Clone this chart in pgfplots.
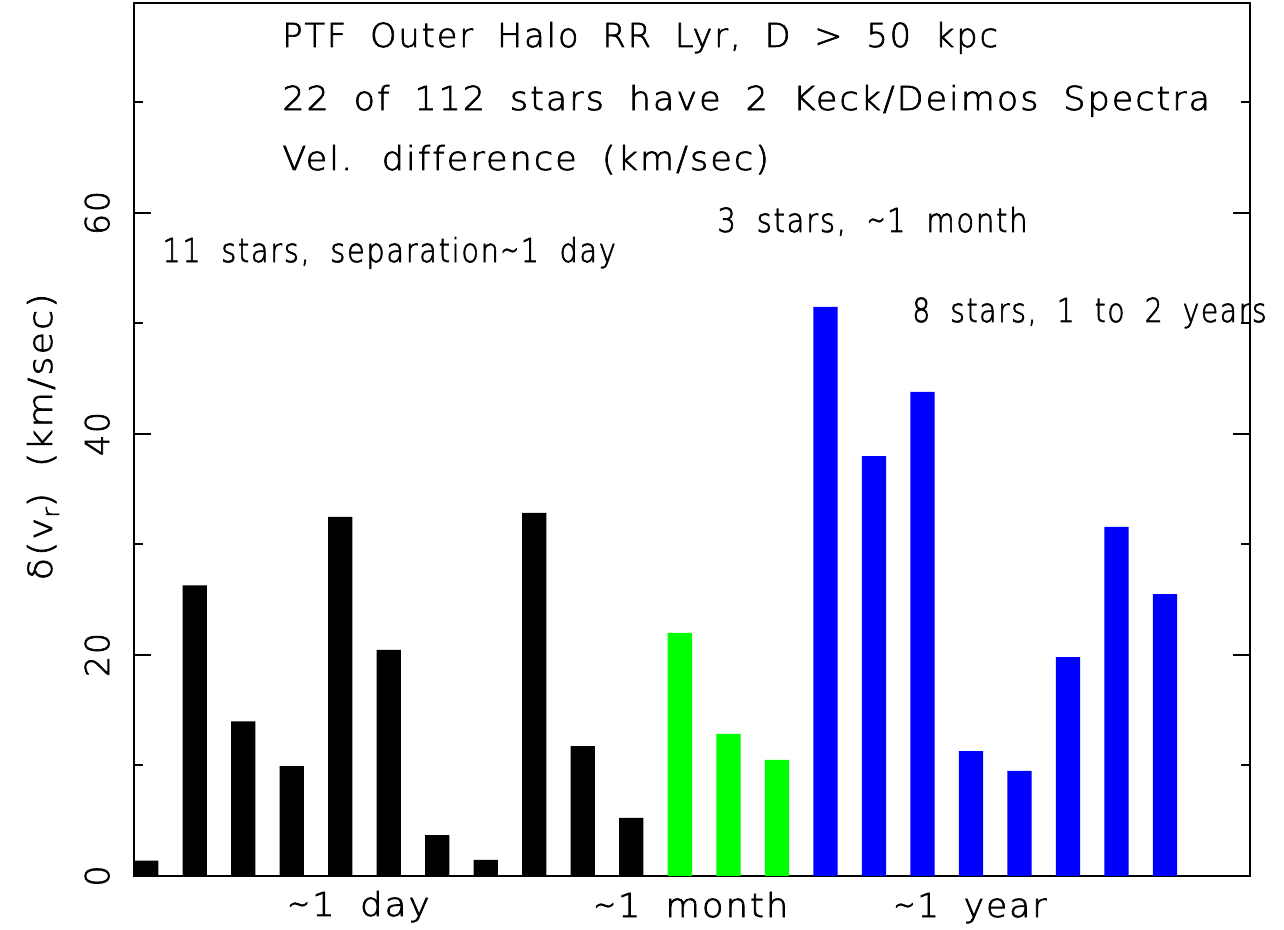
\documentclass[border=0pt]{standalone}
\usepackage{fontspec}
\setmainfont{DejaVu Sans}[UprightFont=* ExtraLight,LetterSpace=6,WordSpace=1.9,Ligatures=CommonOff,FakeBold=2]
\usepackage{pgfplots}
\pgfplotsset{compat=1.18}
\newcommand{\tl}{\char"223C\relax}
\newcommand{\sx}[2]{\scalebox{#1}[1]{#2}}
\begin{document}
\fontsize{16.5}{20}\selectfont
\begin{tikzpicture}
\begin{axis}[
  scale only axis, width=558pt, height=436.5pt,
  xmin=0.75, xmax=23.75, ymin=0, ymax=79,
  xtick=\empty,
  ytick={0,20,40,60}, minor ytick={10,30,50,70},
  tick align=inside,
  major tick length=8.5pt, minor tick length=4.5pt,
  yticklabel style={rotate=90, anchor=south, inner sep=0pt, font=\fontsize{16.5}{20}\selectfont},
  yticklabel shift=12pt,
  /pgf/number format/assume math mode=true,
  axis line style={line width=1pt},
  every tick/.style={line width=1pt, black},
  clip=false,
]
\addplot[ybar, bar width=0.5, bar shift=0pt, fill=black, draw=none] coordinates {
 (1,1.4) (2,26.3) (3,14.0) (4,9.95) (5,32.5) (6,20.45) (7,3.7) (8,1.45) (9,32.85) (10,11.76) (11,5.25)};
\addplot[ybar, bar width=0.5, bar shift=0pt, fill={rgb,1:red,0;green,1;blue,0}, draw=none] coordinates {
 (12,22.0) (13,12.85) (14,10.5)};
\addplot[ybar, bar width=0.5, bar shift=0pt, fill={rgb,1:red,0;green,0;blue,1}, draw=none] coordinates {
 (15,51.5) (16,38.0) (17,43.8) (18,11.3) (19,9.5) (20,19.8) (21,31.6) (22,25.5)};
\coordinate (bl) at (rel axis cs:0,0);
\coordinate (tr) at (rel axis cs:1,1);
\node[anchor=base west, inner sep=0pt] at (rel axis cs:0.1326,0.9496) {\sx{1.013}{PTF Outer Halo RR Lyr, D > 50 kpc}};
\node[anchor=base west, inner sep=0pt] at (rel axis cs:0.1326,0.8774) {\sx{1.055}{22 of 112 stars have 2 Keck/Deimos Spectra}};
\node[anchor=base west, inner sep=0pt] at (rel axis cs:0.1326,0.8087) {\sx{1.06}{Vel. difference (km/sec)}};
\node[anchor=base west, inner sep=0pt] at (rel axis cs:0.0251,0.7033) {\sx{0.871}{11 stars, separation\tl 1 day}};
\node[anchor=base west, inner sep=0pt] at (rel axis cs:0.5224,0.7377) {\sx{0.88}{3 stars, \tl 1 month}};
\node[anchor=base west, inner sep=0pt] at (rel axis cs:0.6971,0.6346) {\sx{0.85}{8 stars, 1 to 2 years}};
\node[anchor=base west, inner sep=0pt] at (rel axis cs:0.1371,-0.0458) {\sx{1.075}{\tl 1 day}};
\node[anchor=base west, inner sep=0pt] at (rel axis cs:0.4113,-0.0470) {\sx{1.067}{\tl 1 month}};
\node[anchor=base west, inner sep=0pt] at (rel axis cs:0.6801,-0.0470) {\sx{1.04}{\tl 1 year}};
\node[anchor=base, rotate=90, inner sep=0pt] at (rel axis cs:-0.0735,0.503) {\sx{1.1}{δ(v\raisebox{-0.4ex}{\fontsize{12}{12}\selectfont r}) (km/sec)}};
\end{axis}
\pgfresetboundingbox
\useasboundingbox ([shift={(-67pt,-27pt)}]bl) rectangle ([shift={(17pt,1.5pt)}]tr);
\end{tikzpicture}
\end{document}
